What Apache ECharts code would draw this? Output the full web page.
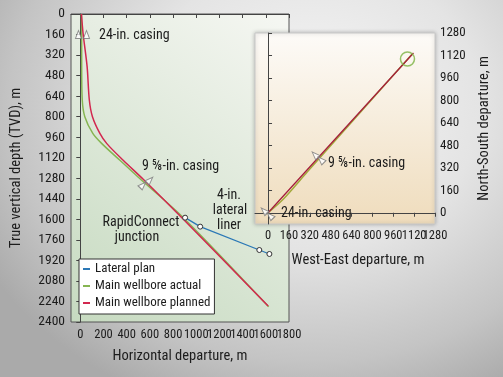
<!DOCTYPE html>
<html style="height: 100%">
<head>
    <meta charset="utf-8">
    <title>Wellbore trajectory</title>
    <script src="https://cdn.jsdelivr.net/npm/echarts@6/dist/echarts.min.js"></script>
</head>
<body style="height: 100%; margin: 0; background: radial-gradient(ellipse 75% 85% at 62% 28%, #f6f6f6 0%, #e4e4e4 45%, #c4c4c4 80%, #aaaaaa 100%);">
    <div id="main" style="width: 503px; height: 377px"></div>
    <script>
        // tick labels
        var hdTicks = [0, 200, 400, 600, 800, 1000, 1200, 1400, 1600, 1800];
        var weTicks = [0, 160, 320, 480, 640, 800, 960, 1120, 1280];

        // main section: horizontal departure vs TVD (m)
        var plannedHD  = [10, 24, 59, 78, 105, 169, 229, 370, 545, 889, 1620];
        var plannedTVD = [0, 150, 410, 670, 800, 930, 1010, 1140, 1290, 1600, 2275];
        var actualHD   = [10, 12, 12, 17, 39, 108, 186, 342, 498, 889, 1625];
        var actualTVD  = [0, 150, 410, 670, 800, 930, 1010, 1140, 1270, 1587, 2282];
        var lateralHD  = [904, 1034, 1544, 1631];
        var lateralTVD = [1587, 1657, 1839, 1870];

        // plan view: west-east vs north-south departure (m)
        var plannedWE = [0, 30, 1115];
        var plannedNS = [0, 30, 1138];
        var actualWE  = [0, 120, 300, 1105];
        var actualNS  = [0, 100, 290, 1130];

        // casing shoes and junction target
        var casingHD  = [19, 575];
        var casingTVD = [160, 1317];
        var casingWE  = [0, 383];
        var casingNS  = [0, 391];
        var targetWE  = [1069];
        var targetNS  = [1095];

        var FONT = '"Roboto Condensed", "Liberation Sans", sans-serif';
        var TXT = '#1c1c1c';
        var BLUE = '#2b78b6', GREEN = '#86b552', RED = '#d2284f';

        function zip(a, b) {
            return a.map(function (v, i) { return [v, b[i]]; });
        }
        function everyOther(arr, start) {
            return arr.filter(function (v, i) { return i % 2 === start; });
        }

        // two small triangles either side of the hole
        function casingItems(xs, ys, offsets, rotate) {
            var out = [];
            xs.forEach(function (x, i) {
                offsets[i].forEach(function (off) {
                    out.push({ value: [x, ys[i]], symbolOffset: off, symbolRotate: rotate[i] });
                });
            });
            return out;
        }

        function plain(v) { return String(v); }

        var chart = echarts.init(document.getElementById('main'));

        var axisLine = { lineStyle: { color: '#444', width: 1 } };
        var axisTick = { length: 4, lineStyle: { color: '#444' } };
        var label = { color: TXT, fontFamily: FONT, fontSize: 13, formatter: plain,
                      hideOverlap: false, showMinLabel: true, showMaxLabel: true };
        var nameStyle = { color: TXT, fontFamily: FONT, fontSize: 14.5 };

        // the tick labels are crowded, so each bottom axis is split in two
        // label layers (even / odd ticks) sharing the same scale
        function bottomAxes(grid, min, max, ticks, size, margin, name, nameGap, namePad) {
            var base = {
                gridIndex: grid, type: 'value', min: min, max: max, position: 'bottom',
                splitLine: { show: false }, z: grid ? 3 : 0
            };
            return [
                Object.assign({}, base, {
                    name: name, nameLocation: 'middle', nameGap: nameGap,
                    nameTextStyle: Object.assign({ padding: namePad }, nameStyle),
                    axisLine: axisLine,
                    axisTick: Object.assign({ customValues: ticks }, axisTick),
                    axisLabel: Object.assign({}, label,
                        { customValues: everyOther(ticks, 0), margin: margin, fontSize: size })
                }),
                Object.assign({}, base, {
                    axisLine: { show: false }, axisTick: { show: false },
                    axisLabel: Object.assign({}, label,
                        { customValues: everyOther(ticks, 1), margin: margin, fontSize: size })
                })
            ];
        }

        function note(text, x, y, align) {
            return {
                type: 'text', x: x, y: y, z: 10,
                style: { text: text, font: '14px ' + FONT, fill: TXT,
                         align: align || 'left', verticalAlign: 'middle', lineHeight: 15 }
            };
        }

        var xAxes = bottomAxes(0, -80, 1800, hdTicks, 12.5, 6, 'Horizontal departure, m', 27, 0)
            .concat(bottomAxes(1, -100, 1280, weTicks, 12.5, 5, 'West-East departure, m', 29, [0, 0, 0, 26]));

        chart.setOption({
            animation: false,
            textStyle: { fontFamily: FONT },
            grid: [
                {
                    left: 71, top: 14, width: 218, height: 308,
                    show: true, borderColor: '#555', borderWidth: 1,
                    backgroundColor: new echarts.graphic.LinearGradient(1, 0, 0, 1, [
                        { offset: 0, color: '#f6f7f3' },
                        { offset: 1, color: '#c6dac0' }
                    ])
                },
                {
                    left: 255, top: 33, width: 180, height: 191, z: 3,
                    show: true, borderColor: '#c8c8c8', borderWidth: 1,
                    shadowBlur: 4, shadowColor: 'rgba(0,0,0,0.25)',
                    backgroundColor: new echarts.graphic.LinearGradient(0, 0, 0, 1, [
                        { offset: 0, color: '#fdfbf8' },
                        { offset: 1, color: '#efdcbc' }
                    ])
                }
            ],
            xAxis: xAxes,
            yAxis: [
                {
                    gridIndex: 0, type: 'value', inverse: true, min: 0, max: 2400, interval: 160,
                    name: 'True vertical depth (TVD), m', nameLocation: 'middle', nameGap: 47,
                    nameTextStyle: nameStyle,
                    axisLine: { show: true, lineStyle: { color: '#444' } },
                    axisTick: { show: true, length: 4, lineStyle: { color: '#444' } },
                    axisLabel: Object.assign({}, label, { fontSize: 13.5, margin: 6 }),
                    splitLine: { show: false }
                },
                {
                    gridIndex: 1, type: 'value', position: 'right', min: -80, max: 1280,
                    name: 'North-South departure, m', nameLocation: 'middle', nameGap: 42,
                    nameTextStyle: nameStyle,
                    axisLine: { show: true, lineStyle: { color: '#444' } },
                    axisTick: { show: true, length: 4, lineStyle: { color: '#444' }, customValues: weTicks },
                    axisLabel: Object.assign({}, label, { customValues: weTicks, margin: 5 }),
                    splitLine: { show: false }, z: 3
                }
            ],
            legend: {
                orient: 'vertical', left: 79, top: 259,
                padding: [2, 4, 3, 4], itemGap: 1,
                itemWidth: 7, itemHeight: 2, icon: 'rect',
                backgroundColor: '#fff', borderColor: '#333', borderWidth: 1,
                textStyle: { color: TXT, fontFamily: FONT, fontSize: 13, lineHeight: 16 },
                data: [
                    { name: 'Lateral plan', itemStyle: { color: BLUE, borderWidth: 0 } },
                    { name: 'Main wellbore actual', itemStyle: { color: GREEN, borderWidth: 0 } },
                    { name: 'Main wellbore planned', itemStyle: { color: RED, borderWidth: 0 } }
                ]
            },
            series: [
                {
                    name: 'Main wellbore actual', type: 'line', xAxisIndex: 0, yAxisIndex: 0,
                    data: zip(actualHD, actualTVD), smooth: 0.3, showSymbol: false,
                    lineStyle: { color: GREEN, width: 1.5 }, itemStyle: { color: GREEN }
                },
                {
                    name: 'Main wellbore planned', type: 'line', xAxisIndex: 0, yAxisIndex: 0,
                    data: zip(plannedHD, plannedTVD), smooth: 0.3, showSymbol: false,
                    lineStyle: { color: RED, width: 1.5 }, itemStyle: { color: RED }
                },
                {
                    name: 'Lateral plan', type: 'line', xAxisIndex: 0, yAxisIndex: 0,
                    data: zip(lateralHD, lateralTVD), symbol: 'circle', symbolSize: 5,
                    showAllSymbol: true, z: 4,
                    lineStyle: { color: BLUE, width: 1.3 },
                    itemStyle: { color: '#fff', borderColor: '#333', borderWidth: 1 }
                },
                {
                    name: 'casing main', type: 'scatter', xAxisIndex: 0, yAxisIndex: 0,
                    symbol: 'triangle', symbolSize: [6, 8], z: 5, silent: true,
                    itemStyle: { color: '#fff', borderColor: '#777', borderWidth: 1 },
                    data: casingItems(casingHD, casingTVD,
                        [[[-4, 0], [4, 0]], [[-4, 2], [3, -3]]], [0, -45])
                },
                {
                    name: 'plan actual', type: 'line', xAxisIndex: 2, yAxisIndex: 1,
                    data: zip(actualWE, actualNS), smooth: 0.3, showSymbol: false, z: 5,
                    lineStyle: { color: '#a3a93a', width: 1.5 }
                },
                {
                    name: 'plan planned', type: 'line', xAxisIndex: 2, yAxisIndex: 1,
                    data: zip(plannedWE, plannedNS), showSymbol: false, z: 6,
                    lineStyle: { color: '#a51f3c', width: 1.3 }
                },
                {
                    name: 'casing plan', type: 'scatter', xAxisIndex: 2, yAxisIndex: 1,
                    symbol: 'triangle', symbolSize: [6, 8], z: 7, silent: true,
                    itemStyle: { color: '#fff', borderColor: '#777', borderWidth: 1 },
                    data: casingItems(casingWE, casingNS,
                        [[[-4, -2], [2, 3]], [[-3, -3], [3, 2]]], [45, 45])
                },
                {
                    name: 'target', type: 'scatter', xAxisIndex: 2, yAxisIndex: 1,
                    symbol: 'circle', symbolSize: 14, z: 7, silent: true,
                    itemStyle: { color: 'rgba(0,0,0,0)', borderColor: '#7cb342', borderWidth: 1.5 },
                    data: zip(targetWE, targetNS)
                }
            ],
            graphic: [
                note('24-in. casing', 99, 35),
                note('9 \u215D-in. casing', 142, 166),
                note('RapidConnect', 141, 222, 'center'),
                note('junction', 137, 237, 'center'),
                note('4-in.', 229, 195, 'center'),
                note('lateral', 230, 210, 'center'),
                note('liner', 229, 225, 'center'),
                note('9 \u215D-in. casing', 328, 163),
                note('24-in. casing', 281, 213)
            ]
        });
    </script>
</body>
</html>
